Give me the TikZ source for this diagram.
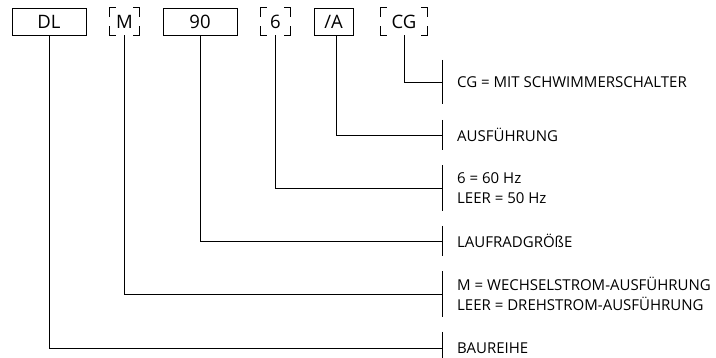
\documentclass[tikz,border=0pt]{standalone}
\usepackage{fontspec}
\setmainfont{Open Sans}
\usetikzlibrary{positioning,calc}
\tikzset{
  box/.style={rectangle, draw, line width=0.9pt, minimum height=27pt, inner sep=0pt,
              font=\fontsize{18.5}{22}\selectfont},
  dbox/.style={rectangle, minimum height=27pt, inner sep=0pt,
               font=\fontsize{18.5}{22}\selectfont},
  entry/.style={anchor=west, align=left, inner xsep=15pt, inner ysep=0pt,
                minimum height=30pt, font=\fontsize{15}{19.5}\selectfont},
  link/.style={line width=0.9pt}
}
% corner brackets of an optional code letter
\newcommand\cornermarks[1]{%
  \draw[link] ([xshift=6pt]#1.north west) -| ([yshift=-9pt]#1.north west);
  \draw[link] ([xshift=-6pt]#1.north east) -| ([yshift=-9pt]#1.north east);
  \draw[link] ([xshift=6pt]#1.south west) -| ([yshift=9pt]#1.south west);
  \draw[link] ([xshift=-6pt]#1.south east) -| ([yshift=9pt]#1.south east);}

\begin{document}
\begin{tikzpicture}[x=1pt, y=-1pt]
\useasboundingbox (0,0) rectangle (716,358);
% type code
\node[box, minimum width=74pt] (dl) at (49,21.5) {DL};
\node[dbox, minimum width=29pt] (m) at (124.5,21.5) {M};
\node[box, minimum width=74pt] (size) at (200,21.5) {90};
\node[dbox, minimum width=29pt] (hz) at (275.5,21.5) {6};
\node[box, minimum width=39pt] (var) at (333.5,21.5) {/A};
\node[dbox, minimum width=46pt] (cg) at (404,21.5) {CG};
\cornermarks{m}\cornermarks{hz}\cornermarks{cg}
% explanations
\node[entry, minimum height=44pt] (cgtxt) at (442,82) {CG = MIT SCHWIMMERSCHALTER};
\node[entry] (vartxt) at (442,135) {AUSFÜHRUNG};
\node[entry, minimum height=45pt] (hztxt) at (442,188) {6 = 60 Hz\\LEER = 50 Hz};
\node[entry] (sizetxt) at (442,241) {LAUFRADGRÖßE};
\node[entry, minimum height=45pt] (mtxt) at (442,294) {M = WECHSELSTROM-AUSFÜHRUNG\\LEER = DREHSTROM-AUSFÜHRUNG};
\node[entry, minimum height=32pt] (dltxt) at (442,348) {BAUREIHE};
\foreach \t in {cgtxt,vartxt,hztxt,sizetxt,mtxt,dltxt}
  \draw[link] (\t.north west) -- (\t.south west);
\draw[link] (cg.south) |- (cgtxt.west);
\draw[link] ([xshift=3pt]var.south) |- (vartxt.west);
\draw[link] (hz.south) |- (hztxt.west);
\draw[link] (size.south) |- (sizetxt.west);
\draw[link] (m.south) |- (mtxt.west);
\draw[link] (dl.south) |- (dltxt.west);
\end{tikzpicture}
\end{document}
